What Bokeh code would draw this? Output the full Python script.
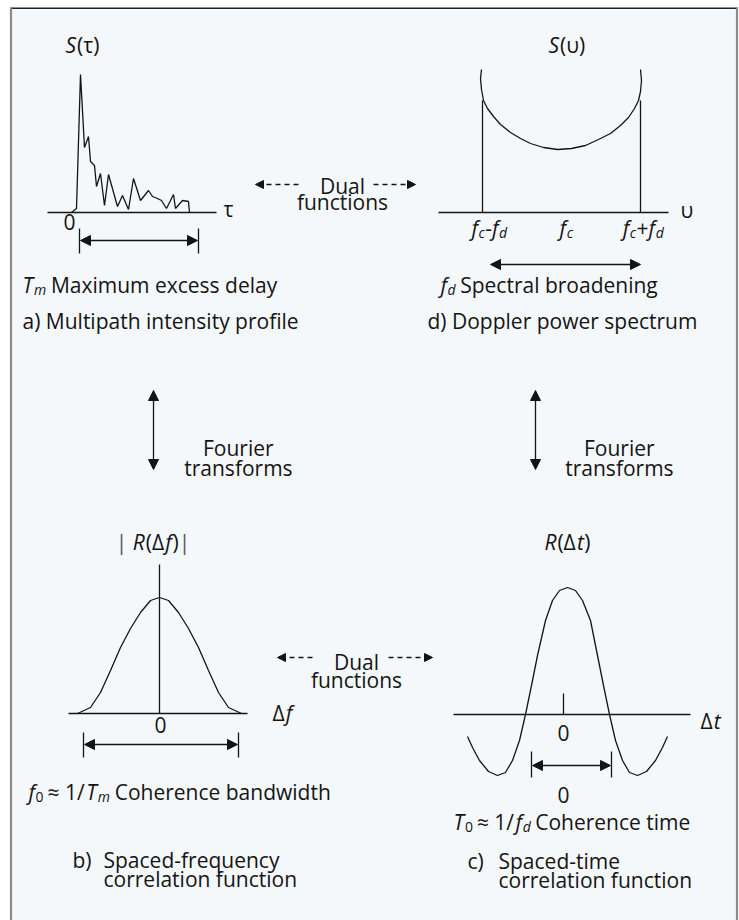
from bokeh.plotting import figure
from bokeh.models import Arrow, NormalHead, ColumnDataSource, Range1d
from bokeh.core.properties import value, field
from bokeh.embed import file_html
from bokeh.resources import INLINE

# ---------------- data (diagram units = reference pixels) -------------
# a) multipath intensity profile S(tau)
mip_x = [71, 76, 80, 84, 88, 90, 94, 96, 100, 104, 108, 117, 122, 128, 133, 140, 148, 152, 157, 161, 166, 173, 175, 182, 188, 189]
mip_y = [212, 208, 74, 147, 136, 161, 165, 186, 173, 205, 174, 206, 195, 209, 178, 200, 190, 196, 198, 200, 208, 194, 208, 200, 201, 212]
# d) Doppler power spectrum S(nu)
dop_x = [481, 480, 481, 483, 487, 493, 500, 510, 520, 530, 543, 557, 571, 585, 598, 610, 620, 628, 634, 638, 640, 641, 640]
dop_y = [69, 78, 89, 100, 108, 116, 124, 132, 138, 143, 147, 149, 148, 145, 139, 133, 125, 117, 108, 100, 91, 80, 69]
dop_edge_x = [482, 640]
dop_edge_top = [100, 100]
# b) spaced-frequency correlation |R(delta f)|
sfc_x = [77, 90, 100, 110, 120, 130, 140, 150, 159, 168, 178, 188, 198, 208, 218, 228, 241]
sfc_y = [713, 707, 692, 670, 647, 628, 612, 600, 597, 600, 612, 628, 647, 670, 692, 707, 713]
# c) spaced-time correlation R(delta t)
stc_x = [467, 472, 479, 488, 497, 505, 512, 519, 525, 531, 537, 545, 552, 559, 567, 575, 582, 590,
         597, 603, 609, 615, 622, 629, 637, 646, 655, 662, 667]
stc_y = [736, 747, 760, 771, 775, 772, 760, 740, 714, 685, 655, 620, 600, 590, 587, 590, 600, 620,
         655, 685, 714, 740, 760, 772, 775, 771, 760, 747, 736]

# axis lines (x0, x1, y)
axes_x0 = [47, 438, 68, 453]
axes_x1 = [216, 668, 247, 690]
axes_y = [212, 212, 713, 714]

# rich text labels: (anchor x, baseline y, align, runs)
LABELS = [
    (65, 44, "left", [("S", "i"), ("(τ)", "n")]),
    (223, 208, "left", [("τ", "n")]),
    (69, 221, "center", [("0", "n")]),
    (22, 284, "left", [("T", "i"), ("m", "si"), (" Maximum excess delay", "n")]),
    (22, 320, "left", [("a) Multipath intensity profile", "n")]),
    (548, 44, "left", [("S", "i"), ("(υ)", "n")]),
    (680, 209, "left", [("υ", "n")]),
    (489, 227, "center", [("f", "i"), ("c", "st"), ("-", "n"), ("f", "i"), ("d", "st")]),
    (566, 227, "center", [("f", "i"), ("c", "st")]),
    (643, 227, "center", [("f", "i"), ("c", "st"), ("+", "n"), ("f", "i"), ("d", "st")]),
    (440, 284, "left", [("f", "i"), ("d", "si"), (" Spectral broadening", "n")]),
    (427, 320, "left", [("d) Doppler power spectrum", "n")]),
    (342, 185, "center", [("Dual", "n")]),
    (342, 201, "center", [("functions", "n")]),
    (238, 447, "center", [("Fourier", "n")]),
    (238, 467, "center", [("transforms", "n")]),
    (619, 447, "center", [("Fourier", "n")]),
    (619, 467, "center", [("transforms", "n")]),
    (158, 541, "center", [("| ", "g"), ("R", "i"), ("(Δ", "n"), ("f", "i"), (")", "n"), ("  |", "g")]),
    (567, 541, "center", [("R", "i"), ("(Δ", "n"), ("t", "i"), (")", "n")]),
    (272, 712, "left", [("Δ", "n"), ("f", "i")]),
    (160, 724, "center", [("0", "n")]),
    (356, 661, "center", [("Dual", "n")]),
    (356, 679, "center", [("functions", "n")]),
    (700, 720, "left", [("Δ", "n"), ("t", "i")]),
    (563, 732, "center", [("0", "n")]),
    (563, 794, "center", [("0", "n")]),
    (28, 791, "left", [("f", "i"), ("0", "s"), (" ≈ 1/", "n"), ("T", "ib"), ("m", "si"), (" Coherence bandwidth", "n")]),
    (453, 821, "left", [("T", "i"), ("0", "s"), (" ≈ 1/", "n"), ("f", "ib"), ("d", "si"), (" Coherence time", "n")]),
    (72, 859, "left", [("b)", "n")]),
    (103, 859, "left", [("Spaced-frequency", "n")]),
    (103, 878, "left", [("correlation function", "n")]),
    (467, 860, "left", [("c)", "n")]),
    (498, 860, "left", [("Spaced-time", "n")]),
    (498, 879, "left", [("correlation function", "n")]),
]

# ---------------- styling ----------------
FONT = "Open Sans"
INK = "#141414"
FS = 21
SUB = 14
# kind: (size, style, baseline shift, colour, extra advance before, extra advance after)
KIND = {"n": (FS, "normal", 0, INK, 0, 0), "i": (FS, "italic", 0, INK, 0, 0),
        "ib": (FS, "italic", 0, INK, -4, 0),
        "s": (SUB, "normal", 5, INK, 0, 4), "si": (SUB, "italic", 5, INK, 0, 4),
        "st": (SUB, "italic", 5, INK, 0, 0),
        "g": (FS, "normal", 0, "#555555", 0, 0)}
ADV = {' ': 532, 'a': 1139, 'b': 1255, 'c': 975, 'd': 1255, 'e': 1149, 'f': 694, 'g': 1122, 'h': 1257,
       'i': 518, 'j': 518, 'k': 1075, 'l': 518, 'm': 1905, 'n': 1257, 'o': 1237, 'p': 1255, 'q': 1255,
       'r': 836, 's': 977, 't': 723, 'u': 1257, 'v': 1026, 'w': 1593, 'x': 1073, 'y': 1028, 'z': 979,
       'C': 1298, 'D': 1479, 'F': 1096, 'M': 1767, 'R': 1266, 'S': 1124, 'T': 1110,
       '0': 1171, '1': 1171, '(': 608, ')': 608, '/': 752, '-': 659, '+': 1171, '≈': 1171,
       '|': 1128, 'Δ': 1300, 'τ': 1000, 'υ': 1200}


def adv(text, size):
    return sum(ADV.get(ch, 1150) for ch in text) / 2048.0 * size


TX, TY, TT, TS, TST, TC = [], [], [], [], [], []
for ax, by, align, runs in LABELS:
    widths = [adv(t, KIND[k][0]) + KIND[k][4] + KIND[k][5] for t, k in runs]
    x = ax - (sum(widths) / 2 if align == "center" else 0)
    for (t, k), w in zip(runs, widths):
        size, style, dy, col, pre, post = KIND[k]
        TX.append(x + pre); TY.append(by + dy); TT.append(t)
        TS.append(f"{size}px"); TST.append(style); TC.append(col)
        x += w

p = figure(width=739, height=920, x_range=Range1d(0, 739), y_range=Range1d(920, 0),
           output_backend="svg", toolbar_location=None, min_border=0, title=None,
           x_axis_location=None, y_axis_location=None)
p.grid.visible = False
p.outline_line_color = None
p.background_fill_color = "white"
p.border_fill_color = "white"

# frame
p.quad(left=[10], right=[737], top=[7], bottom=[940], fill_color="#f5f8fa", line_color=None)
p.segment(x0=[10], y0=[7.8], x1=[737], y1=[7.8], line_color="#222222", line_width=1.6)
p.segment(x0=[10.5, 736.5], y0=[7, 7], x1=[10.5, 736.5], y1=[940, 940], line_color="#8a8a8a", line_width=2.2)

LW = 1.3
# axes
p.segment(x0=axes_x0, y0=axes_y, x1=axes_x1, y1=axes_y, line_color=INK, line_width=LW)
# curves
p.line(mip_x, mip_y, line_color=INK, line_width=LW)
p.line(dop_x, dop_y, line_color=INK, line_width=LW)
p.segment(x0=dop_edge_x, y0=dop_edge_top, x1=dop_edge_x, y1=[axes_y[1]] * 2, line_color=INK, line_width=LW)
p.line(sfc_x, sfc_y, line_color=INK, line_width=LW)
p.segment(x0=[159], y0=[564], x1=[159], y1=[axes_y[2]], line_color=INK, line_width=LW)
p.line(stc_x, stc_y, line_color=INK, line_width=LW)
p.segment(x0=[563], y0=[693], x1=[563], y1=[axes_y[3]], line_color=INK, line_width=LW)

# dimension bars
bar_x = [79, 198, 83, 238, 531, 611]
bar_y0 = [228, 228, 732, 732, 751, 751]
bar_y1 = [253, 253, 757, 757, 777, 777]
p.segment(x0=bar_x, y0=bar_y0, x1=bar_x, y1=bar_y1, line_color=INK, line_width=LW)


def head():
    return NormalHead(size=10, fill_color=INK, line_color=INK, line_width=1)


def small_head():
    return NormalHead(size=8, fill_color=INK, line_color=INK, line_width=1)


# double-headed dimension arrows
for xs, xe, yy in [(80, 197, 240), (84, 237, 744), (532, 610, 765), (490, 640, 264)]:
    p.add_layout(Arrow(start=head(), end=head(), x_start=xs, y_start=yy, x_end=xe, y_end=yy,
                       line_color=INK, line_width=LW))
# Fourier transform arrows
for xx in [153, 535]:
    p.add_layout(Arrow(start=head(), end=head(), x_start=xx, y_start=390, x_end=xx, y_end=469,
                       line_color=INK, line_width=LW))
# dual-function dashed arrows
for xs, xe, yy in [(298, 255, 184), (373, 415, 184), (312, 277, 657), (388, 432, 657)]:
    p.add_layout(Arrow(end=small_head(), x_start=xs, y_start=yy, x_end=xe, y_end=yy,
                       line_color=INK, line_width=LW, line_dash="5 4"))

src = ColumnDataSource(dict(x=TX, y=TY, text=TT, size=TS, style=TST, color=TC))
p.text(x="x", y="y", text="text", source=src, text_font=value(FONT), text_font_size=field("size"),
       text_font_style=field("style"), text_color=field("color"), text_baseline="alphabetic",
       text_align="left")

open("out.html", "w").write(file_html(p, INLINE))
